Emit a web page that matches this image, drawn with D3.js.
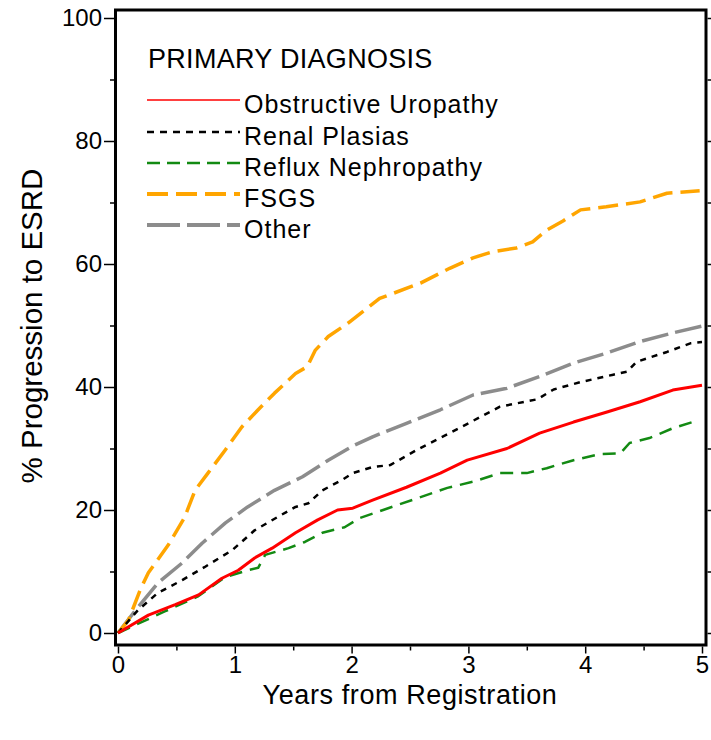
<!DOCTYPE html>
<html><head><meta charset="utf-8">
<script src="https://cdn.jsdelivr.net/npm/d3@7"></script>
<style>
body{margin:0;background:#fff}
svg{display:block}
text{font-family:Arial,"Liberation Sans",sans-serif;fill:#000}
</style>
</head><body>
<svg id="chart" width="711" height="740"></svg>
<script>
// ---------- data ----------
const seriesNames = ["Obstructive Uropathy","Renal Plasias","Reflux Nephropathy","FSGS","Other"];
const legendTitle = "PRIMARY DIAGNOSIS";
const xTickValues = [0,1,2,3,4,5];
const yTickValues = [0,20,40,60,80,100];

const obstructiveYears = [0,0.26,0.49,0.69,0.89,1.03,1.17,1.32,1.52,1.71,1.88,2.01,2.18,2.47,2.76,2.99,3.33,3.61,3.90,4.18,4.47,4.75,5.0];
const obstructivePct   = [0,2.9,4.6,6.2,8.9,10.2,12.2,13.8,16.3,18.4,20.0,20.3,21.6,23.7,26.0,28.1,30.0,32.5,34.3,35.9,37.6,39.5,40.3];

const renalYears = [0,0.17,0.34,0.55,0.74,0.98,1.17,1.37,1.52,1.63,1.75,1.92,2.01,2.18,2.33,2.56,2.84,3.10,3.27,3.59,3.73,3.96,4.24,4.36,4.44,4.70,4.90,5.0];
const renalPct   = [0,3.7,6.5,8.6,10.7,13.5,16.7,18.9,20.5,21.1,23.2,24.9,26.0,27.0,27.3,29.8,32.5,35.1,36.8,38.0,39.6,40.8,42.0,42.5,44.1,45.7,47.1,47.3];

const refluxYears = [0,0.40,0.68,0.92,1.11,1.20,1.26,1.46,1.60,1.75,1.94,2.07,2.27,2.56,2.82,3.04,3.27,3.50,3.67,3.90,4.13,4.30,4.38,4.55,4.75,4.92];
const refluxPct   = [0,3.5,5.9,9.1,10.2,10.6,12.7,13.8,14.8,16.3,17.2,18.7,20.0,21.9,23.6,24.6,26.0,26.0,26.8,28.1,29.1,29.2,30.9,31.7,33.3,34.3];

const fsgsYears = [0,0.09,0.19,0.26,0.34,0.43,0.57,0.66,0.77,0.92,1.06,1.20,1.34,1.52,1.62,1.69,1.80,1.97,2.24,2.59,2.84,3.04,3.21,3.41,3.55,3.67,3.81,3.96,4.18,4.47,4.70,4.98];
const fsgsPct   = [0,2.1,7.0,9.8,11.9,14.3,18.8,23.2,26.0,29.8,33.5,36.3,39.0,42.2,43.3,46.0,48.2,50.4,54.4,56.9,59.3,61.0,62.0,62.6,63.6,65.5,67.0,68.8,69.3,70.1,71.5,71.9];

const otherYears = [0,0.15,0.34,0.55,0.72,0.92,1.11,1.34,1.58,1.80,2.01,2.18,2.47,2.76,3.04,3.33,3.61,3.90,4.18,4.47,4.75,5.0];
const otherPct   = [0,3.7,8.1,11.4,14.6,17.9,20.5,23.2,25.4,28.1,30.4,31.9,34.1,36.3,38.7,39.8,41.7,43.9,45.5,47.4,48.8,49.9];

// ---------- styles ----------
const styles = [
  {color:"#ff0000", width:3,   dash:null,    lw:1.5, ldash:null},
  {color:"#000000", width:2.5, dash:"6,6",   lw:2.5, ldash:"7,6"},
  {color:"#138a13", width:2.5, dash:"13,8",  lw:2.5, ldash:"13,7"},
  {color:"#ffa500", width:3.5, dash:"20,8",  lw:4,   ldash:"21,8"},
  {color:"#8c8c8c", width:3.5, dash:"27,7",  lw:4,   ldash:"33,7"}
];
const seriesData = [
  d3.zip(obstructiveYears, obstructivePct),
  d3.zip(renalYears, renalPct),
  d3.zip(refluxYears, refluxPct),
  d3.zip(fsgsYears, fsgsPct),
  d3.zip(otherYears, otherPct)
];

const svg = d3.select("#chart");
const x = d3.scaleLinear().domain([0,5]).range([118,702]);
const y = d3.scaleLinear().domain([0,100]).range([633,18]);

const frame = {left:115.5, right:706, top:10, bottom:645};

// curves (draw order: other, fsgs, renal, reflux, obstructive)
const line = d3.line().x(d=>x(d[0])).y(d=>y(d[1])).curve(d3.curveLinear);
[4,3,1,2,0].forEach(i=>{
  const s = styles[i];
  svg.append("path").datum(seriesData[i])
    .attr("d", line).attr("fill","none")
    .attr("stroke", s.color).attr("stroke-width", s.width)
    .attr("stroke-dasharray", s.dash)
    .attr("stroke-linejoin","round");
});

// frame
svg.append("rect").attr("x",frame.left).attr("y",frame.top)
  .attr("width",frame.right-frame.left).attr("height",frame.bottom-frame.top)
  .attr("fill","none").attr("stroke","#000").attr("stroke-width",3);

function styleAxis(g, fs){
  g.select(".domain").remove();
  g.selectAll(".tick line").attr("stroke","#000").attr("stroke-width",1.5);
  g.selectAll(".tick text").attr("font-size",fs).attr("fill","#000")
    .attr("font-family","Arial, 'Liberation Sans', sans-serif");
}
const fmt = d3.format("d");
// left axis
svg.append("g").attr("transform",`translate(${frame.left-1.5},0)`)
  .call(d3.axisLeft(y).tickValues(yTickValues).tickSize(10).tickPadding(2).tickFormat(fmt))
  .call(g=>styleAxis(g,24));
svg.append("g").attr("transform",`translate(${frame.left-1.5},0)`)
  .call(d3.axisLeft(y).tickValues([10,30,50,70,90]).tickSize(4).tickFormat(""))
  .call(g=>styleAxis(g,24));
// bottom axis
svg.append("g").attr("transform",`translate(0,${frame.bottom+1.5})`)
  .call(d3.axisBottom(x).tickValues(xTickValues).tickSize(7).tickPadding(2).tickFormat(fmt))
  .call(g=>styleAxis(g,24));
svg.append("g").attr("transform",`translate(0,${frame.bottom+1.5})`)
  .call(d3.axisBottom(x).tickValues([0.5,1.5,2.5,3.5,4.5]).tickSize(4).tickFormat(""))
  .call(g=>styleAxis(g,24));
// right axis ticks
svg.append("g").attr("transform",`translate(${frame.right+1.5},0)`)
  .call(d3.axisRight(y).tickValues(d3.range(0,101,10)).tickSize(5).tickFormat(""))
  .call(g=>styleAxis(g,24));

// axis titles
svg.append("text").attr("x",410).attr("y",704).attr("text-anchor","middle")
  .attr("font-size",27).attr("letter-spacing",0.6).text("Years from Registration");
svg.append("text").attr("transform","translate(42,326) rotate(-90)")
  .attr("text-anchor","middle").attr("font-size",29.5).text("% Progression to ESRD");

// legend
svg.append("text").attr("x",148).attr("y",68).attr("font-size",27).attr("letter-spacing",0.3).text(legendTitle);
const legendY = [100,132,163,194,225];
seriesNames.forEach((name,i)=>{
  const s = styles[i];
  svg.append("line").attr("x1",147).attr("x2",240).attr("y1",legendY[i]).attr("y2",legendY[i])
    .attr("stroke",s.color).attr("stroke-width",s.lw).attr("stroke-dasharray",s.ldash);
  svg.append("text").attr("x",244).attr("y",legendY[i]+13).attr("font-size",25).attr("letter-spacing",1).text(name);
});
</script>
</body></html>
